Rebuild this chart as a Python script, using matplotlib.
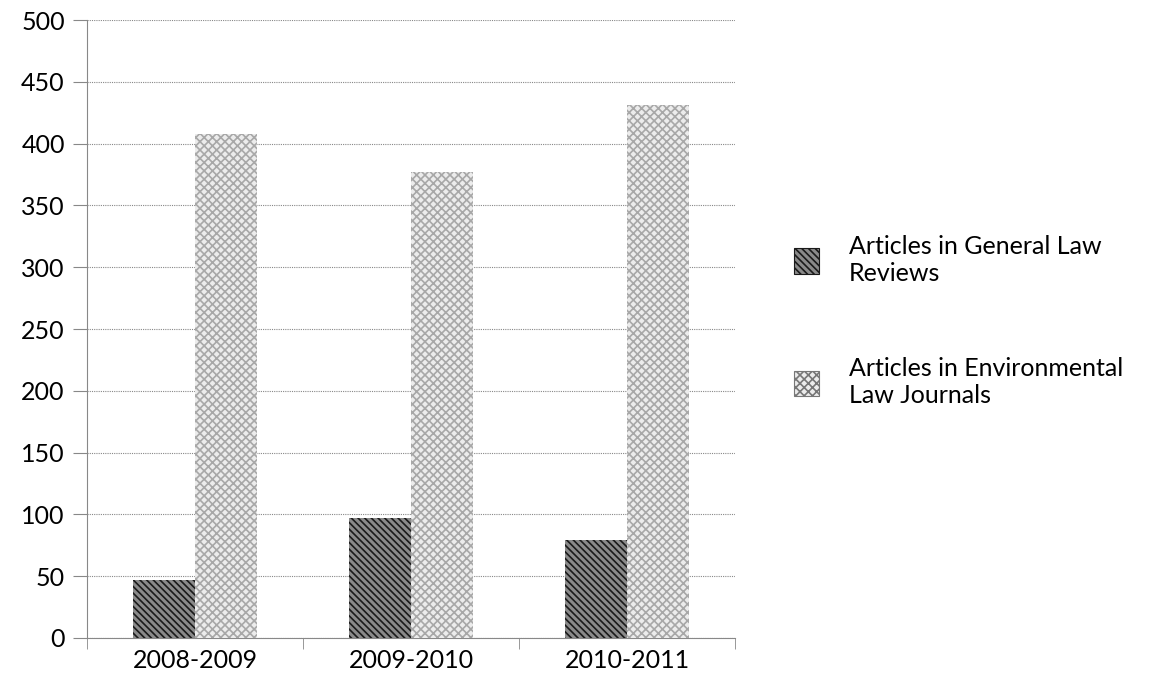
import numpy as np
import matplotlib.pyplot as plt
from matplotlib.patches import Patch

plt.rcParams['font.family'] = ['Lato', 'DejaVu Sans']
plt.rcParams['hatch.linewidth'] = 1.2

years = ['2008-2009', '2009-2010', '2010-2011']
general = [47, 97, 79]
environmental = [408, 377, 431]
labels = ['Articles in General Law\nReviews', 'Articles in Environmental\nLaw Journals']

fig = plt.figure(figsize=(11.58, 6.79), dpi=100)
ax = fig.add_axes([0.0751, 0.0604, 0.56, 0.9101])

x = np.arange(len(years))
w = 0.287
ax.bar(x - w/2, general, w, facecolor='#8a8a8a', edgecolor='#1a1a1a', hatch='\\\\\\\\\\', linewidth=0, zorder=3)
ax.bar(x + w/2, environmental, w, facecolor='#ececec', edgecolor='#a8a8a8', hatch='xxxx', linewidth=0, zorder=3)

ax.set_xlim(-0.5, 2.5)
ax.set_ylim(0, 500)
ax.set_yticks(range(0, 501, 50))
ax.set_xticks(x)
ax.set_xticklabels(years)
ax.set_xticks(np.arange(-0.5, 3, 1), minor=True)
ax.tick_params(axis='x', which='major', length=0, labelsize=18, pad=8)
ax.tick_params(axis='x', which='minor', length=8, color='#888888')
ax.tick_params(axis='y', length=10, color='#888888', labelsize=18, pad=6)
ax.grid(axis='y', color='#888888', linestyle=(0, (1, 1)), linewidth=0.8, zorder=0)
for s in ['top', 'right']:
    ax.spines[s].set_visible(False)
for s in ['left', 'bottom']:
    ax.spines[s].set_color('#888888')
    ax.spines[s].set_linewidth(0.8)

handles = [Patch(facecolor='#8a8a8a', edgecolor='#1a1a1a', hatch='\\\\\\\\\\', linewidth=0.8),
           Patch(facecolor='#ececec', edgecolor='#777777', hatch='xxxx', linewidth=0.8)]
fig.legend(handles, labels, loc='center left', bbox_to_anchor=(0.666, 0.527), frameon=False,
           fontsize=18, labelspacing=2.9, handlelength=1.0, handleheight=1.2, handletextpad=1.2)

fig.savefig('out.png', dpi=100)
